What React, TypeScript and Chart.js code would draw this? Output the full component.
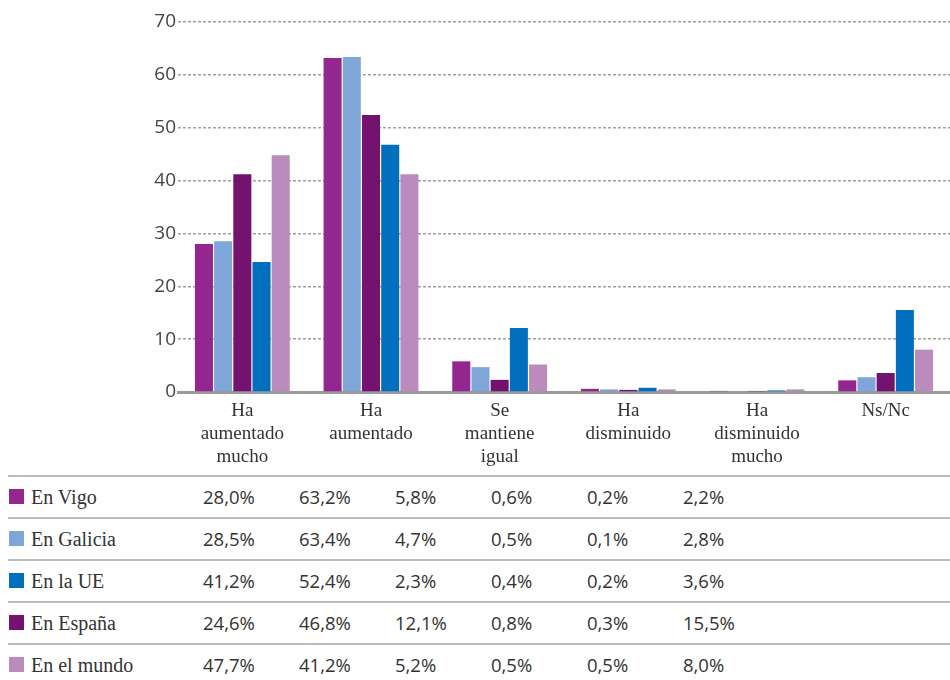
import React, { useEffect, useRef } from "react";
import { Chart, registerables } from "chart.js";

Chart.register(...registerables);

// Categories (x axis, multi-line)
const categories: string[][] = [
  ["Ha", "aumentado", "mucho"],
  ["Ha", "aumentado"],
  ["Se", "mantiene", "igual"],
  ["Ha", "disminuido"],
  ["Ha", "disminuido", "mucho"],
  ["Ns/Nc"],
];

// Table values (as printed in the table)
const enVigo = [28.0, 63.2, 5.8, 0.6, 0.2, 2.2];
const enGalicia = [28.5, 63.4, 4.7, 0.5, 0.1, 2.8];
const enLaUE = [41.2, 52.4, 2.3, 0.4, 0.2, 3.6];
const enEspana = [24.6, 46.8, 12.1, 0.8, 0.3, 15.5];
const enElMundo = [47.7, 41.2, 5.2, 0.5, 0.5, 8.0];

// Bar heights as drawn in the chart
const barsVigo = [28.0, 63.2, 5.8, 0.6, 0.2, 2.2];
const barsGalicia = [28.5, 63.4, 4.7, 0.5, 0.1, 2.8];
const barsThird = [41.2, 52.4, 2.3, 0.4, 0.2, 3.6];
const barsFourth = [24.6, 46.8, 12.1, 0.8, 0.3, 15.5];
const barsFifth = [44.8, 41.2, 5.2, 0.5, 0.5, 8.0];

const yTicks = [0, 10, 20, 30, 40, 50, 60, 70];

const C_PURPLE = "#93268f";
const C_LBLUE = "#7ea6d8";
const C_DPURPLE = "#73136f";
const C_BLUE = "#0070be";
const C_LPURPLE = "#bc8bbe";

const rows = [
  { name: "En Vigo", color: C_PURPLE, values: enVigo },
  { name: "En Galicia", color: C_LBLUE, values: enGalicia },
  { name: "En la UE", color: C_BLUE, values: enLaUE },
  { name: "En España", color: C_DPURPLE, values: enEspana },
  { name: "En el mundo", color: C_LPURPLE, values: enElMundo },
];

const fmt = (v: number) => v.toFixed(1).replace(".", ",") + "%";

const SANS = "'Open Sans', 'Noto Sans', sans-serif";
const SERIF = "'Liberation Serif', 'DejaVu Serif', serif";

export default function App() {
  const ref = useRef<HTMLCanvasElement | null>(null);

  useEffect(() => {
    document.body.style.margin = "0";
    const canvas = ref.current;
    if (!canvas) return;
    const chart = new Chart(canvas, {
      type: "bar",
      data: {
        labels: categories,
        datasets: [
          { label: "En Vigo", data: barsVigo, backgroundColor: C_PURPLE },
          { label: "En Galicia", data: barsGalicia, backgroundColor: C_LBLUE },
          { label: "Serie 3", data: barsThird, backgroundColor: C_DPURPLE },
          { label: "Serie 4", data: barsFourth, backgroundColor: C_BLUE },
          { label: "Serie 5", data: barsFifth, backgroundColor: C_LPURPLE },
        ],
      },
      options: {
        responsive: false,
        animation: false,
        devicePixelRatio: 1,
        layout: { padding: { top: 22, left: 0, right: 0, bottom: 0 } },
        datasets: {
          bar: { categoryPercentage: 0.746, barPercentage: 0.94 },
        },
        plugins: {
          legend: { display: false },
          tooltip: { enabled: false },
        },
        scales: {
          x: {
            grid: { display: false, drawTicks: false },
            border: { display: true, color: "#9a9a9a", width: 3 },
            ticks: {
              color: "#333",
              font: { family: SERIF, size: 19, lineHeight: 23 / 19 },
              padding: 8,
              maxRotation: 0,
              autoSkip: false,
            },
            afterFit: (s: any) => {
              s.height = 78;
            },
          },
          y: {
            min: 0,
            max: 70,
            afterBuildTicks: (s: any) => {
              s.ticks = yTicks.map((v) => ({ value: v }));
            },
            grid: {
              color: "#a0a0a0",
              lineWidth: 1.4,
              drawTicks: false,
            },
            border: { display: false, dash: [3, 2] },
            ticks: {
              color: "#444",
              font: { family: SANS, size: 19 },
              padding: 2,
            },
            afterFit: (s: any) => {
              s.width = 178;
            },
          },
        },
      } as any,
    });
    return () => chart.destroy();
  }, []);

  return (
    <div style={{ position: "relative", width: 950, height: 680, background: "#fff", overflow: "hidden" }}>
      <canvas ref={ref} width={950} height={470} style={{ position: "absolute", left: 0, top: 0 }} />
      {rows.map((r, i) => (
        <div
          key={r.name}
          style={{
            position: "absolute",
            left: 8,
            width: 942,
            top: 475 + i * 42,
            height: 42,
            borderTop: "2px solid #bcbcbc",
            boxSizing: "border-box",
          }}
        >
          <div
            style={{
              position: "absolute",
              left: 1,
              top: 12,
              width: 15,
              height: 15,
              background: r.color,
            }}
          />
          <div
            style={{
              position: "absolute",
              left: 23,
              top: 0,
              height: 40,
              lineHeight: "40px",
              fontFamily: SERIF,
              fontSize: 20,
              color: "#333",
              whiteSpace: "nowrap",
            }}
          >
            {r.name}
          </div>
          {r.values.map((v, j) => (
            <div
              key={j}
              style={{
                position: "absolute",
                left: 195 + j * 96,
                top: 0,
                height: 40,
                lineHeight: "40px",
                fontFamily: SANS,
                fontSize: 18.5,
                color: "#333",
                whiteSpace: "nowrap",
              }}
            >
              {fmt(v)}
            </div>
          ))}
        </div>
      ))}
    </div>
  );
}
